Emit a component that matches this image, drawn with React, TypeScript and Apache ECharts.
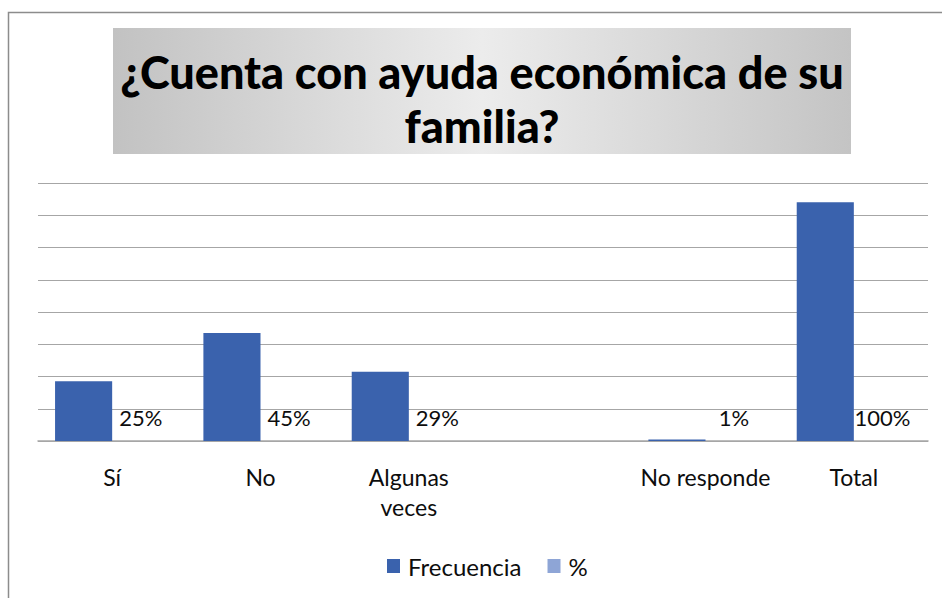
import React, { useEffect, useRef } from "react";
import * as echarts from "echarts";

const categories = ["Sí", "No", "Algunas\nveces", "", "No responde", "Total"];
const frecuencia: (number | string)[] = [37, 67, 43, "-", 1, 148];
const porcentaje: (number | string)[] = [25, 45, 29, "-", 1, 100];
const titleLines = ["¿Cuenta con ayuda económica de su", "familia?"];

const FONT = "Lato, 'Open Sans', sans-serif";

export default function App() {
  const ref = useRef<HTMLDivElement>(null);
  useEffect(() => {
    if (!ref.current) return;
    const chart = echarts.init(ref.current, null, { renderer: "svg" });
    chart.setOption({
      animation: false,
      backgroundColor: "#ffffff",
      textStyle: { fontFamily: FONT },
      graphic: [
        {
          type: "rect",
          z: 0,
          shape: { x: 8.5, y: 12.5, width: 960, height: 620 },
          style: { fill: "none", stroke: "#8c8c8c", lineWidth: 1.5 },
        },
        {
          type: "rect",
          z: 0,
          shape: { x: 113, y: 28, width: 738, height: 126 },
          style: {
            fill: new echarts.graphic.LinearGradient(0, 0, 1, 0, [
              { offset: 0, color: "#c2c2c2" },
              { offset: 0.5, color: "#ececec" },
              { offset: 1, color: "#c4c4c4" },
            ]),
          },
        },
        {
          type: "text",
          z: 1,
          style: {
            x: 482,
            y: 72,
            text: titleLines[0],
            align: "center",
            verticalAlign: "middle",
            font: `900 45px ${FONT}`,
            fill: "#000000",
          },
        },
        {
          type: "text",
          z: 1,
          style: {
            x: 482,
            y: 126,
            text: titleLines[1],
            align: "center",
            verticalAlign: "middle",
            font: `900 45px ${FONT}`,
            fill: "#000000",
          },
        },
      ],
      grid: { left: 38, right: 14, top: 183, bottom: 157, containLabel: false },
      legend: {
        data: ["Frecuencia", "%"],
        top: 549,
        left: 382,
        itemWidth: 13,
        itemHeight: 14,
        itemGap: 26,
        icon: "rect",
        textStyle: {
          fontSize: 24,
          color: "#0d0d0d",
          fontFamily: FONT,
          padding: [0, 0, 0, 3],
        },
      },
      xAxis: {
        type: "category",
        data: categories,
        axisLine: { lineStyle: { color: "#a6a6a6", width: 1.5 } },
        axisTick: { show: false },
        axisLabel: {
          fontSize: 23,
          color: "#0d0d0d",
          margin: 21,
          lineHeight: 30,
          interval: 0,
          fontFamily: FONT,
        },
      },
      yAxis: {
        type: "value",
        min: 0,
        max: 160,
        interval: 20,
        axisLabel: { show: false },
        axisLine: { show: false },
        axisTick: { show: false },
        splitLine: { lineStyle: { color: "#a6a6a6", width: 1 } },
      },
      series: [
        {
          name: "Frecuencia",
          type: "bar",
          data: frecuencia,
          barGap: "0%",
          barCategoryGap: "23%",
          itemStyle: { color: "#3a62ad" },
        },
        {
          name: "%",
          type: "bar",
          data: porcentaje.map((v) => (v === "-" ? "-" : 0)),
          itemStyle: { color: "#8ea5d6" },
          label: {
            show: true,
            position: "top",
            distance: 13,
            fontSize: 22,
            color: "#0d0d0d",
            fontFamily: FONT,
            formatter: (p: any) => `${porcentaje[p.dataIndex]}%`,
          },
        },
      ],
    });
    return () => chart.dispose();
  }, []);
  return (
    <div
      ref={ref}
      style={{ position: "absolute", left: 0, top: 0, width: 942, height: 598 }}
    />
  );
}
